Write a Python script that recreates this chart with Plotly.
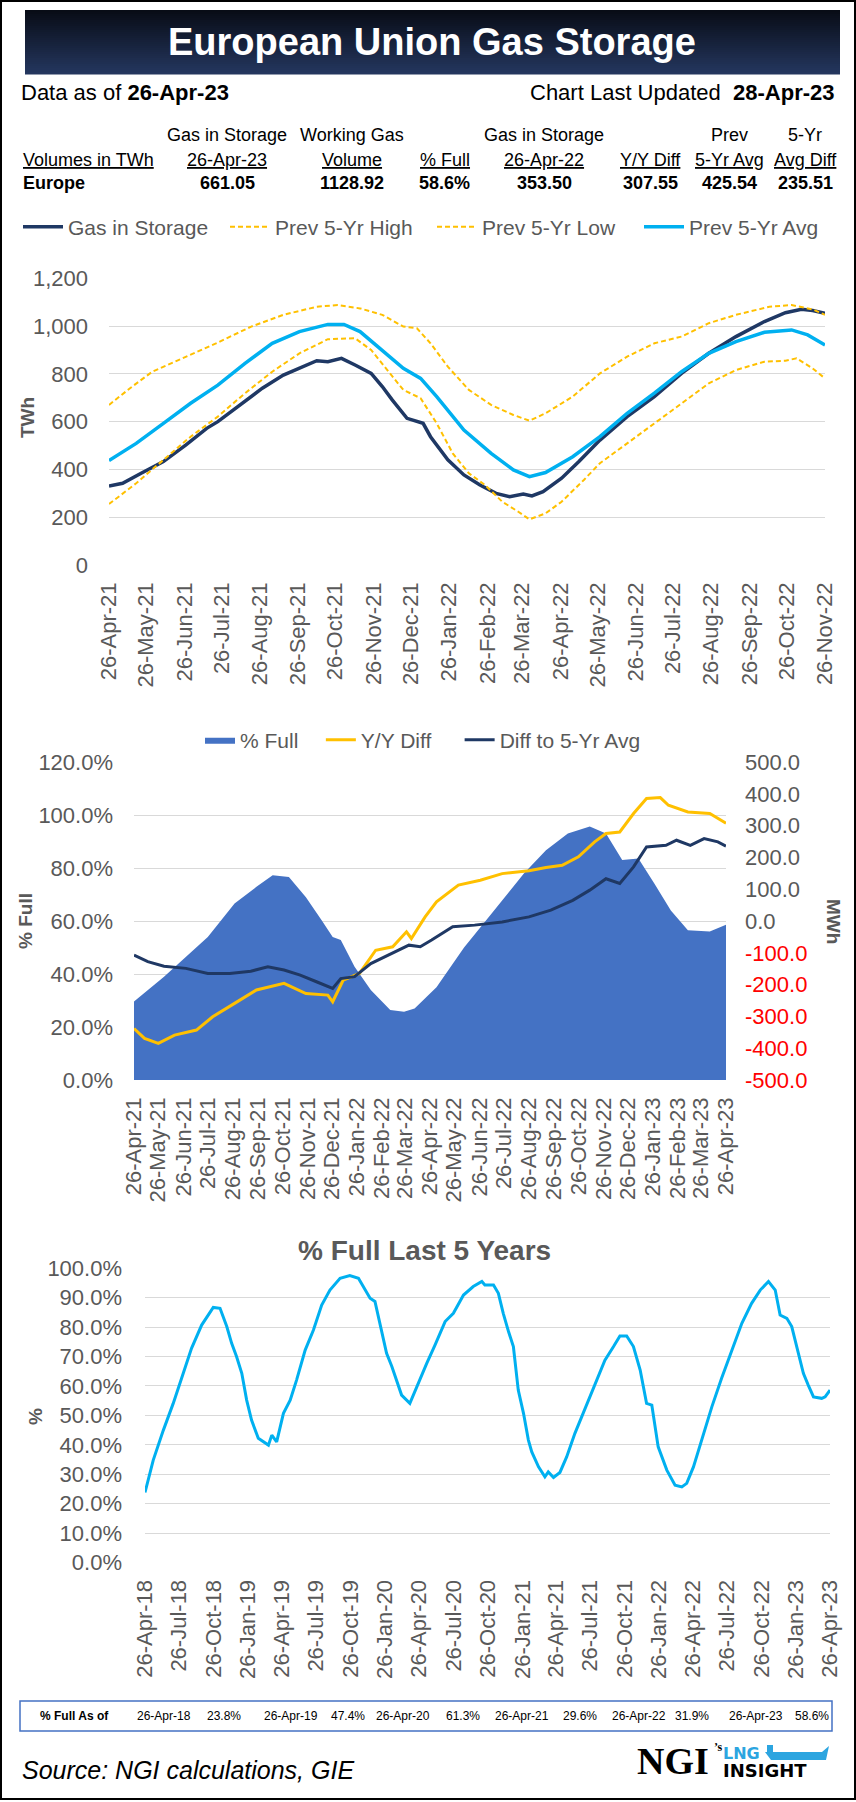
import plotly.graph_objects as go

# ---------------- DATA ----------------
# Top chart (TWh)
gas_dates = ["2021-04-26","2021-05-07","2021-05-22","2021-06-09","2021-06-27","2021-07-14","2021-07-23","2021-08-10","2021-08-28","2021-09-14",
             "2021-10-02","2021-10-11","2021-10-20","2021-10-31","2021-11-11","2021-11-24","2021-12-03","2021-12-11","2021-12-23","2021-12-29",
             "2022-01-05","2022-01-11","2022-01-25","2022-02-07","2022-02-20","2022-03-05","2022-03-16","2022-03-27","2022-04-03","2022-04-12",
             "2022-04-27","2022-05-11","2022-05-28","2022-06-19","2022-07-11","2022-08-02","2022-08-24","2022-09-15","2022-10-08","2022-10-25",
             "2022-11-07","2022-11-16","2022-11-26"]
gas_vals = [331,342,384,433,502,572,600,670,740,795,
            837,855,851,865,837,802,747,691,614,604,
            593,537,440,377,335,300,286,297,289,307,
            363,433,523,621,705,802,886,956,1019,1056,
            1070,1065,1054]

high_dates = ["2021-04-26","2021-05-13","2021-05-31","2021-06-27","2021-07-23","2021-08-19","2021-09-14","2021-10-11","2021-10-28","2021-11-15",
              "2021-12-03","2021-12-20","2021-12-31","2022-01-11","2022-01-25","2022-02-11","2022-03-01","2022-03-19","2022-04-01","2022-04-14",
              "2022-05-06","2022-05-28","2022-06-19","2022-07-11","2022-08-02","2022-08-24","2022-09-15","2022-10-12","2022-10-30","2022-11-16",
              "2022-11-26"]
high_vals = [670,740,809,872,931,998,1047,1081,1088,1074,
             1047,998,991,928,830,733,670,628,604,635,
             705,802,872,928,956,1012,1047,1081,1088,1070,
             1047]

low_dates = ["2021-04-26","2021-05-18","2021-06-09","2021-07-01","2021-07-23","2021-08-14","2021-09-05","2021-09-27","2021-10-20","2021-11-11",
             "2021-11-24","2021-12-07","2021-12-20","2022-01-03","2022-01-16","2022-01-29","2022-02-11","2022-02-24","2022-03-10","2022-03-23",
             "2022-04-01","2022-04-14","2022-04-27","2022-05-15","2022-05-28","2022-06-19","2022-07-11","2022-08-02","2022-08-24","2022-09-15",
             "2022-10-08","2022-10-25","2022-11-03","2022-11-16","2022-11-26"]
low_vals = [255,342,440,537,621,719,809,886,945,949,
            900,816,733,698,593,467,384,335,265,223,
            191,216,265,356,426,509,593,677,760,816,
            851,855,865,823,781]

avg_dates = ["2021-04-26","2021-05-18","2021-06-09","2021-07-01","2021-07-23","2021-08-14","2021-09-05","2021-09-27","2021-10-20","2021-11-02",
             "2021-11-15","2021-12-03","2021-12-20","2022-01-03","2022-01-16","2022-02-07","2022-03-01","2022-03-19","2022-04-01","2022-04-14",
             "2022-05-06","2022-05-28","2022-06-19","2022-07-11","2022-08-02","2022-08-24","2022-09-15","2022-10-08","2022-10-30","2022-11-12",
             "2022-11-26"]
avg_vals = [437,509,593,677,753,844,928,977,1007,1007,
            977,900,823,781,705,565,467,398,370,387,
            453,537,635,719,809,886,935,974,984,963,
            921]

# Middle chart
full_dates = ["2021-04-26","2021-06-02","2021-07-26","2021-08-28","2021-09-24","2021-10-14","2021-11-03","2021-11-24","2021-12-14","2021-12-27",
              "2022-01-06","2022-01-23","2022-02-12","2022-03-08","2022-03-25","2022-04-07","2022-05-04","2022-06-07","2022-07-11","2022-08-20",
              "2022-09-16","2022-10-13","2022-11-09","2022-11-29","2022-12-19","2023-01-08","2023-01-28","2023-02-17","2023-03-10","2023-04-06",
              "2023-04-26"]
full_pct = [29.6,39,54,66.6,72.9,77.3,76.6,69,60,54,
            52.8,42.7,34,26.4,25.8,27,35,50,62.8,78,
            86.7,93,95.7,93,83,83.6,74,64,56.5,56,
            58.6]

yy_dates = ["2021-04-26","2021-05-09","2021-05-26","2021-06-15","2021-07-12","2021-08-01","2021-08-28","2021-09-24","2021-10-28","2021-11-24",
            "2021-12-21","2021-12-27","2022-01-09","2022-01-29","2022-02-18","2022-03-11","2022-03-28","2022-04-03","2022-04-20","2022-05-04",
            "2022-05-31","2022-06-27","2022-07-24","2022-08-26","2022-09-16","2022-10-06","2022-10-26","2022-11-15","2022-11-29","2022-12-16",
            "2023-01-02","2023-01-18","2023-02-04","2023-02-14","2023-03-10","2023-04-06","2023-04-26"]
yy_vals = [-338,-369,-385,-359,-343,-301,-259,-217,-196,-228,
           -233,-254,-186,-165,-92,-81,-34,-55,13,60,
           113,128,149,158,168,175,202,249,275,280,
           338,385,388,364,343,338,307.55]

diff_dates = ["2021-04-26","2021-05-13","2021-06-02","2021-06-29","2021-07-26","2021-08-22","2021-09-17","2021-10-08","2021-10-28","2021-11-17",
              "2021-12-07","2021-12-27","2022-01-06","2022-01-23","2022-02-12","2022-03-11","2022-03-31","2022-04-14","2022-04-28","2022-05-24",
              "2022-06-20","2022-07-24","2022-08-26","2022-09-22","2022-10-19","2022-11-09","2022-11-29","2022-12-16","2023-01-02","2023-01-18",
              "2023-02-11","2023-02-24","2023-03-13","2023-03-30","2023-04-16","2023-04-26"]
diff_vals = [-107,-128,-142,-149,-165,-165,-158,-144,-154,-170,
             -191,-212,-181,-175,-134,-102,-76,-81,-60,-18,
             -13,-3,13,34,65,97,133,118,170,233,
             238,254,238,259,249,235.51]

# Bottom chart: % full last 5 years
five_dates = ["2018-04-26","2018-05-18","2018-06-14","2018-07-10","2018-08-06","2018-08-28","2018-09-24","2018-10-12","2018-10-25","2018-11-12",
              "2018-11-30","2018-12-13","2018-12-26","2019-01-09","2019-01-22","2019-02-04","2019-02-22","2019-03-21","2019-03-30","2019-04-12",
              "2019-04-30","2019-05-18","2019-06-04","2019-06-27","2019-07-19","2019-08-10","2019-09-01","2019-09-28","2019-10-24","2019-11-16",
              "2019-11-29","2019-12-17","2019-12-30","2020-01-12","2020-01-30","2020-02-13","2020-03-01","2020-03-10","2020-04-01","2020-04-19",
              "2020-05-16","2020-06-07","2020-07-04","2020-07-26","2020-08-22","2020-09-17","2020-10-10","2020-10-18","2020-11-01",
              "2020-11-10","2020-11-23","2020-12-06","2020-12-20","2021-01-02","2021-01-15","2021-01-29","2021-02-11","2021-02-20","2021-03-10",
              "2021-03-27","2021-04-05","2021-04-19","2021-05-06","2021-05-24","2021-06-15","2021-07-12","2021-08-08","2021-09-03","2021-09-26",
              "2021-10-13","2021-10-31","2021-11-18","2021-12-06","2021-12-23","2022-01-06","2022-01-23","2022-02-15","2022-03-09","2022-03-27",
              "2022-04-09","2022-04-27","2022-05-19","2022-06-15","2022-07-11","2022-08-07","2022-09-03","2022-09-29","2022-10-22","2022-11-13",
              "2022-12-01","2022-12-14","2023-01-01","2023-01-14","2023-02-01","2023-02-14","2023-02-27","2023-03-13","2023-04-04","2023-04-13",
              "2023-04-26"]
five_pct = [23.8,34.8,45,54,64.3,72.8,80.7,84.1,86.7,86.4,
            80.2,74.5,70,64.3,55.2,48.4,42.2,39.9,43.3,41,
            50.7,55.2,62,72.2,79,87.5,92.6,96.6,97.5,96.6,
            93.8,89.8,88.7,81.3,71.1,66.6,60.3,56.9,54.1,59.8,
            67.7,73.9,81.9,84.7,90.9,93.8,95.5,94.3,94.3,
            94.3,91.5,84.7,78.5,73.4,58.6,50.7,41.6,37.6,32.5,
            29.1,30.8,28.9,30.6,35.9,43.9,52.4,60.3,68.8,73.4,
            77,77,73.4,65.4,54.1,53.5,39.3,31.4,26.3,25.7,
            26.9,32.5,41.6,52.9,62.6,72.2,81.3,88.1,92.6,95.5,
            92.6,84.1,83,80.2,71.1,64.3,60.3,56.3,55.8,56.3,
            58.6]

# Tick labels
top_ticks = ["2021-04-26","2021-05-26","2021-06-26","2021-07-26","2021-08-26","2021-09-26","2021-10-26","2021-11-26","2021-12-26","2022-01-26",
             "2022-02-26","2022-03-26","2022-04-26","2022-05-26","2022-06-26","2022-07-26","2022-08-26","2022-09-26","2022-10-26","2022-11-26"]
mid_ticks = ["2021-04-26","2021-05-26","2021-06-26","2021-07-26","2021-08-26","2021-09-26","2021-10-26","2021-11-26","2021-12-26","2022-01-26",
             "2022-02-26","2022-03-26","2022-04-26","2022-05-26","2022-06-26","2022-07-26","2022-08-26","2022-09-26","2022-10-26","2022-11-26",
             "2022-12-26","2023-01-26","2023-02-26","2023-03-26","2023-04-26"]
bot_ticks = ["2018-04-26","2018-07-26","2018-10-26","2019-01-26","2019-04-26","2019-07-26","2019-10-26","2020-01-26","2020-04-26","2020-07-26",
             "2020-10-26","2021-01-26","2021-04-26","2021-07-26","2021-10-26","2022-01-26","2022-04-26","2022-07-26","2022-10-26","2023-01-26",
             "2023-04-26"]
twh_ticks = [0, 200, 400, 600, 800, 1000, 1200]
pct_mid_ticks = [0, 0.2, 0.4, 0.6, 0.8, 1.0, 1.2]
mwh_ticks = [-500, -400, -300, -200, -100, 0, 100, 200, 300, 400, 500]
pct_bot_ticks = [0, 0.1, 0.2, 0.3, 0.4, 0.5, 0.6, 0.7, 0.8, 0.9, 1.0]

# Header table
head_row1 = ["Gas in Storage", "Working Gas", "", "Gas in Storage", "", "Prev", "5-Yr"]
head_row2 = ["26-Apr-23", "Volume", "% Full", "26-Apr-22", "Y/Y Diff", "5-Yr Avg", "Avg Diff"]
head_row3 = ["661.05", "1128.92", "58.6%", "353.50", "307.55", "425.54", "235.51"]

# Footer table
foot_dates = ["26-Apr-18", "26-Apr-19", "26-Apr-20", "26-Apr-21", "26-Apr-22", "26-Apr-23"]
foot_pcts = ["23.8%", "47.4%", "61.3%", "29.6%", "31.9%", "58.6%"]

# ---------------- STYLE ----------------
W, H = 856, 1802
FONT = "Liberation Sans, Arial, sans-serif"
GRAY = "#595959"
GRID = "#D9D9D9"
NAVY = "#1F3864"
GOLD = "#FFC000"
CYAN = "#00B0F0"
BLUE = "#4472C4"
LOGO_BLUE = "#2CA5E0"
NB = "\u00a0"


def fx(p):
    return p / W


def fy(p):
    return 1 - p / H


fig = go.Figure()

# Top chart traces
fig.add_trace(go.Scatter(x=gas_dates, y=gas_vals, name="Gas in Storage", mode="lines",
                         line=dict(color=NAVY, width=3.5), xaxis="x", yaxis="y", legend="legend"))
fig.add_trace(go.Scatter(x=high_dates, y=high_vals, name="Prev 5-Yr High", mode="lines",
                         line=dict(color=GOLD, width=2, dash="5px,3px"), xaxis="x", yaxis="y", legend="legend"))
fig.add_trace(go.Scatter(x=low_dates, y=low_vals, name="Prev 5-Yr Low", mode="lines",
                         line=dict(color=GOLD, width=2, dash="5px,3px"), xaxis="x", yaxis="y", legend="legend"))
fig.add_trace(go.Scatter(x=avg_dates, y=avg_vals, name="Prev 5-Yr Avg", mode="lines",
                         line=dict(color=CYAN, width=3.5), xaxis="x", yaxis="y", legend="legend"))

# Middle chart traces
fig.add_trace(go.Scatter(x=full_dates, y=[v / 100 for v in full_pct], name="% Full" + NB * 3, mode="lines",
                         fill="tozeroy", fillcolor=BLUE, line=dict(color=BLUE, width=0),
                         xaxis="x2", yaxis="y2", legend="legend2"))
fig.add_trace(go.Scatter(x=yy_dates, y=yy_vals, name="Y/Y Diff" + NB * 4, mode="lines",
                         line=dict(color=GOLD, width=3), xaxis="x2", yaxis="y3", legend="legend2"))
fig.add_trace(go.Scatter(x=diff_dates, y=diff_vals, name="Diff to 5-Yr Avg", mode="lines",
                         line=dict(color=NAVY, width=3), xaxis="x2", yaxis="y3", legend="legend2"))

# Bottom chart trace
fig.add_trace(go.Scatter(x=five_dates, y=[v / 100 for v in five_pct], name="% Full", mode="lines",
                         line=dict(color=CYAN, width=3), xaxis="x3", yaxis="y4", showlegend=False))

tickfont = dict(family=FONT, size=22, color=GRAY)


def xdate(domain, anchor, rng, ticks):
    return dict(domain=domain, anchor=anchor, type="date", range=rng, tickvals=ticks,
                tickformat="%d-%b-%y", tickangle=-90, tickfont=tickfont, showgrid=False,
                zeroline=False, showline=False, ticks="", ticklabelstandoff=12, fixedrange=True,
                automargin=False)


mwh_text = [("<span style='color:#FF0000'>%.1f</span>" % v) if v < 0 else "%.1f" % v for v in mwh_ticks]

fig.update_layout(
    width=W, height=H, autosize=False,
    margin=dict(l=0, r=0, t=0, b=0, pad=0),
    paper_bgcolor="white", plot_bgcolor="white",
    font=dict(family=FONT, color=GRAY),
    hovermode=False,
    xaxis=xdate([fx(109), fx(825)], "y", ["2021-04-26", "2022-11-26"], top_ticks),
    yaxis=dict(domain=[fy(565), fy(278.3)], anchor="x", range=[0, 1200], tickvals=twh_ticks,
               tickformat=",", tickfont=tickfont, gridcolor=GRID, gridwidth=1.2, zeroline=False,
               showline=False, ticks="", ticklabelstandoff=20, automargin=False),
    xaxis2=xdate([fx(134), fx(726)], "y2", ["2021-04-26", "2023-04-26"], mid_ticks),
    yaxis2=dict(domain=[fy(1080), fy(762)], anchor="x2", range=[0, 1.2], tickvals=pct_mid_ticks,
                tickformat=".1%", tickfont=tickfont, gridcolor=GRID, gridwidth=1.2, zeroline=False,
                showline=False, ticks="", ticklabelstandoff=20, automargin=False),
    yaxis3=dict(overlaying="y2", anchor="x2", side="right", range=[-500, 500], tickvals=mwh_ticks,
                ticktext=mwh_text, tickfont=tickfont, showgrid=False, zeroline=False, showline=False,
                ticks="", ticklabelstandoff=18, automargin=False),
    xaxis3=xdate([fx(145), fx(830)], "y4", ["2018-04-26", "2023-04-26"], bot_ticks),
    yaxis4=dict(domain=[fy(1562.5), fy(1268.3)], anchor="x3", range=[0, 1.0], tickvals=pct_bot_ticks,
                tickformat=".1%", tickfont=tickfont, gridcolor=GRID, gridwidth=1.2, zeroline=False,
                showline=False, ticks="", ticklabelstandoff=22, automargin=False),
    legend=dict(orientation="h", x=fx(18), y=fy(227), xanchor="left", yanchor="middle",
                font=dict(family=FONT, size=21, color=GRAY), entrywidth=152, entrywidthmode="pixels",
                itemwidth=40, bgcolor="rgba(0,0,0,0)", traceorder="normal"),
    legend2=dict(orientation="h", x=fx(200), y=fy(740), xanchor="left", yanchor="middle",
                 font=dict(family=FONT, size=21, color=GRAY),
                 bgcolor="rgba(0,0,0,0)", traceorder="normal"),
)

shapes = []
# Title bar gradient (strips)
top_c, bot_c = (8, 12, 22), (36, 54, 94)
n = 32
y0, y1 = 10, 74
for i in range(n):
    t = i / (n - 1)
    c = tuple(int(round(top_c[k] + (bot_c[k] - top_c[k]) * t)) for k in range(3))
    ya = y0 + (y1 - y0) * i / n
    yb = y0 + (y1 - y0) * (i + 1) / n + 0.5
    shapes.append(dict(type="rect", xref="paper", yref="paper", x0=fx(25), x1=fx(840),
                       y0=fy(yb), y1=fy(ya), line=dict(width=0), fillcolor="rgb(%d,%d,%d)" % c, layer="below"))
# outer frame
shapes.append(dict(type="rect", xref="paper", yref="paper", x0=fx(1), x1=fx(855), y0=fy(1799), y1=fy(1),
                   line=dict(color="black", width=2), fillcolor="rgba(0,0,0,0)"))
# footer table box
shapes.append(dict(type="rect", xref="paper", yref="paper", x0=fx(20), x1=fx(832), y0=fy(1731), y1=fy(1701),
                   line=dict(color=BLUE, width=1.5), fillcolor="rgba(0,0,0,0)"))
# LNG ship logo
hull = [(765, 1752), (822, 1752), (829, 1746), (826, 1760), (771, 1760)]
path = "M " + " L ".join("%f,%f" % (fx(a), fy(b)) for a, b in hull) + " Z"
shapes.append(dict(type="path", xref="paper", yref="paper", path=path, fillcolor=LOGO_BLUE, line=dict(width=0)))
shapes.append(dict(type="rect", xref="paper", yref="paper", x0=fx(767), x1=fx(773), y0=fy(1753), y1=fy(1745),
                   fillcolor=LOGO_BLUE, line=dict(width=0)))
fig.update_layout(shapes=shapes)

ann = []


def txt(x, y, text, size, color="black", xanchor="center", angle=0, family=FONT, align="center"):
    ann.append(dict(xref="paper", yref="paper", x=fx(x), y=fy(y), text=text, showarrow=False,
                    xanchor=xanchor, yanchor="middle", textangle=angle, align=align,
                    font=dict(family=family, size=size, color=color)))


txt(432, 42, "<b>European Union Gas Storage</b>", 38, "white")
txt(19, 92, "Data as of <b>26-Apr-23</b>", 22, "black", "left")
txt(837, 92, "Chart Last Updated  <b>28-Apr-23</b>", 22, "black", "right")

cols = [227, 352, 445, 544, 650, 729, 805]
for cx, a, b, c in zip(cols, head_row1, head_row2, head_row3):
    if a:
        txt(cx, 135, a, 18)
    txt(cx, 160, "<u>%s</u>" % b, 18)
    txt(cx, 183, "<b>%s</b>" % c, 18)
txt(21, 160, "<u>Volumes in TWh</u>", 18, "black", "left")
txt(21, 183, "<b>Europe</b>", 18, "black", "left")

# axis titles
txt(27, 417, "<b>TWh</b>", 19, GRAY, angle=-90)
txt(25, 921, "<b>% Full</b>", 19, GRAY, angle=-90)
txt(834, 921, "<b>MWh</b>", 19, GRAY, angle=90)
txt(35, 1417, "<b>%</b>", 19, GRAY, angle=-90)

# bottom chart title
txt(424, 1250, "<b>% Full Last 5 Years</b>", 28, GRAY)

# footer table
txt(38, 1716, "<b>% Full As of</b>", 12, "black", "left")
date_x = [164, 291, 403, 522, 639, 756]
pct_x = [224, 348, 463, 580, 692, 812]
for dx, px, d, p in zip(date_x, pct_x, foot_dates, foot_pcts):
    txt(dx, 1716, d, 12)
    txt(px, 1716, p, 12)

# source
txt(20, 1770, "<i>Source: NGI calculations, GIE</i>", 25, "black", "left")

# logo
txt(673, 1761, "<b>NGI</b>", 38, "black", family="Liberation Serif, Times New Roman, serif")
txt(712, 1747, "<b>’s</b>", 12, "black", "left", family="Liberation Serif, Times New Roman, serif")
txt(721, 1762,
    "<span style='font-size:16px;color:%s'><b>LNG</b></span><br><span style='font-size:18px'><b>INSIGHT</b></span>" % LOGO_BLUE,
    14, "black", "left", family="DejaVu Sans, sans-serif", align="left")

fig.update_layout(annotations=ann)

fig.write_html("out.html", config={"displayModeBar": False},
               post_script="document.body.style.margin='0px';document.body.style.padding='0px';"
                           "document.documentElement.style.overflow='hidden';")
